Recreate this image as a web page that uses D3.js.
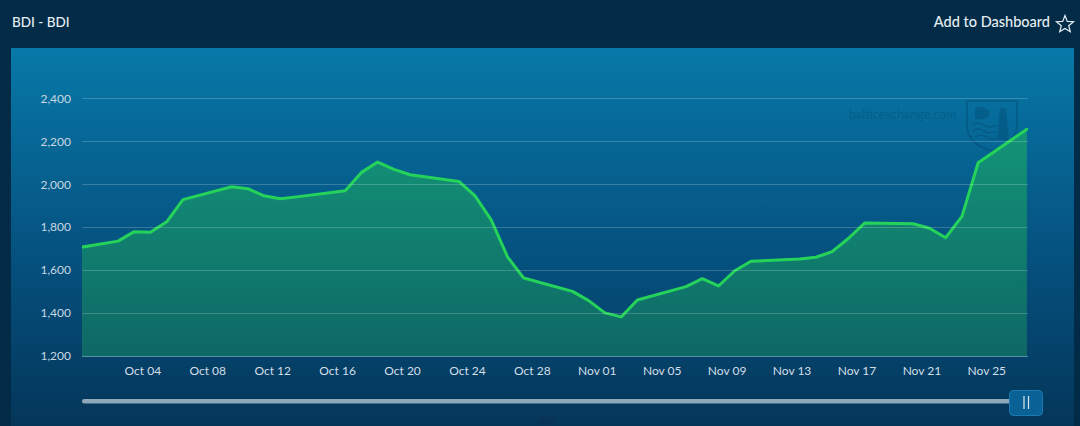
<!DOCTYPE html>
<html>
<head>
<meta charset="utf-8">
<script src="https://cdn.jsdelivr.net/npm/d3@7"></script>
<style>
  html, body { margin: 0; padding: 0; background: #022b47; }
  svg { display: block; }
  text { font-family: Lato, "Open Sans", sans-serif; }
</style>
</head>
<body>
<svg id="chart" width="1080" height="426"></svg>
<script>
// ---- Data (BDI, daily, trading days) ----
const dates = [
  "2023-09-29",
  "2023-10-02","2023-10-03","2023-10-04","2023-10-05","2023-10-06",
  "2023-10-09","2023-10-10","2023-10-11","2023-10-12","2023-10-13",
  "2023-10-16","2023-10-17","2023-10-18","2023-10-19","2023-10-20",
  "2023-10-23","2023-10-24","2023-10-25","2023-10-26","2023-10-27",
  "2023-10-30","2023-10-31","2023-11-01","2023-11-02","2023-11-03",
  "2023-11-06","2023-11-07","2023-11-08","2023-11-09","2023-11-10",
  "2023-11-13","2023-11-14","2023-11-15","2023-11-16","2023-11-17",
  "2023-11-20","2023-11-21","2023-11-22","2023-11-23","2023-11-24",
  "2023-11-27"
];
const bdiValues = [
  1697,
  1735, 1779, 1776, 1825, 1928,
  1988, 1979, 1946, 1932, 1941,
  1969, 2055, 2103, 2069, 2044,
  2013, 1946, 1833, 1662, 1563,
  1501, 1458, 1401, 1382, 1461,
  1523, 1560, 1526, 1597, 1641,
  1652, 1660, 1686, 1747, 1819,
  1816, 1795, 1751, 1850, 2100,
  2256
];
const xTickDates = [
  "2023-10-04","2023-10-08","2023-10-12","2023-10-16","2023-10-20",
  "2023-10-24","2023-10-28","2023-11-01","2023-11-05","2023-11-09",
  "2023-11-13","2023-11-17","2023-11-21","2023-11-25"
];
const yTicks = [1200, 1400, 1600, 1800, 2000, 2200, 2400];
const viewStart = "2023-09-30T06:45:00Z";
const viewEnd = "2023-11-27T13:40:00Z";
const chartTitle = "BDI - BDI";
const dashboardLabel = "Add to Dashboard";
const seriesName = "BDI";
const watermarkText = "balticexchange.com";

// ---- Setup ----
const W = 1080, H = 426;
const plot = { left: 82, right: 1028, top: 60, bottom: 356 };
const svg = d3.select("#chart");
const defs = svg.append("defs");

const parseDay = d3.utcParse("%Y-%m-%d");
const data = dates.map((d, i) => ({ date: d3.utcHour.offset(parseDay(d), 12), value: bdiValues[i] }));

const x = d3.scaleUtc()
  .domain([new Date(viewStart), new Date(viewEnd)])
  .range([plot.left, plot.right]);
const y = d3.scaleLinear()
  .domain([1200, 2400])
  .range([plot.bottom, 98.3]);

// gradients
const bg = defs.append("linearGradient").attr("id", "panelGrad")
  .attr("x1", 0).attr("y1", 0).attr("x2", 0).attr("y2", 1);
bg.append("stop").attr("offset", "0%").attr("stop-color", "#0779a8");
bg.append("stop").attr("offset", "55%").attr("stop-color", "#05517f");
bg.append("stop").attr("offset", "100%").attr("stop-color", "#043659");

const ag = defs.append("linearGradient").attr("id", "areaGrad")
  .attr("gradientUnits", "userSpaceOnUse")
  .attr("x1", 0).attr("y1", 98).attr("x2", 0).attr("y2", plot.bottom);
ag.append("stop").attr("offset", "0%").attr("stop-color", "#149a7a");
ag.append("stop").attr("offset", "100%").attr("stop-color", "#0e6866");

defs.append("clipPath").attr("id", "plotClip")
  .append("rect")
  .attr("x", plot.left).attr("y", 48)
  .attr("width", plot.right - plot.left).attr("height", plot.bottom - 48);

// outer background
svg.append("rect").attr("width", W).attr("height", H).attr("fill", "#022b47");
// panel
svg.append("rect").attr("x", 11).attr("y", 48).attr("width", 1063).attr("height", H - 48)
  .attr("fill", "url(#panelGrad)");

// header
svg.append("text").attr("x", 12).attr("y", 27)
  .attr("fill", "#e6eef4").attr("font-size", 13.5).attr("font-weight", 500)
  .text(chartTitle);
svg.append("text").attr("x", 1050).attr("y", 27).attr("text-anchor", "end")
  .attr("fill", "#e6eef4").attr("font-size", 14.5).attr("font-weight", 500)
  .text(dashboardLabel);
// star icon
(function () {
  const cx = 1065, cy = 24.5, R = 9, r = 3.9;
  const pts = d3.range(10).map(i => {
    const a = -Math.PI / 2 + i * Math.PI / 5;
    const rad = i % 2 === 0 ? R : r;
    return [cx + rad * Math.cos(a), cy + rad * Math.sin(a)];
  });
  svg.append("path").attr("d", "M" + pts.join("L") + "Z")
    .attr("fill", "none").attr("stroke", "#e6eef4").attr("stroke-width", 1.2)
    .attr("stroke-linejoin", "miter");
})();

// watermark
const wm = svg.append("g").attr("opacity", 0.2);
wm.append("text").attr("x", 849).attr("y", 119).attr("font-size", 12.5)
  .attr("fill", "#002a4a").text(watermarkText);
wm.append("path")
  .attr("d", "M967,101 L1017,101 L1017,128 Q1014,145 992,151 Q970,145 967,128 Z")
  .attr("fill", "none").attr("stroke", "#002a4a").attr("stroke-width", 2);
wm.append("path")
  .attr("d", "M972,125 Q978,121 984,125 T996,125 M972,131 Q978,127 984,131 T996,131 M975,137 Q981,133 987,137 T999,137")
  .attr("fill", "none").attr("stroke", "#002a4a").attr("stroke-width", 1.6);
wm.append("path")
  .attr("d", "M1000,108 L1006,108 L1009,140 L997,140 Z M975,108 Q985,104 990,114 Q985,122 975,118 Z")
  .attr("fill", "#002a4a");

// area & line
const g = svg.append("g").attr("clip-path", "url(#plotClip)");
const area = d3.area()
  .x(d => x(d.date)).y0(y(1200)).y1(d => y(d.value));
const line = d3.line()
  .x(d => x(d.date)).y(d => y(d.value));

g.append("path").datum(data).attr("d", area).attr("fill", "url(#areaGrad)");

// gridlines
svg.append("g").selectAll("line").data(yTicks).join("line")
  .attr("x1", plot.left).attr("x2", plot.right)
  .attr("y1", d => Math.round(y(d)) + 0.5).attr("y2", d => Math.round(y(d)) + 0.5)
  .attr("stroke", d => d === 1200 ? "rgba(160,210,210,0.55)" : "rgba(255,255,255,0.2)")
  .attr("stroke-width", 1);

g.append("path").datum(data).attr("d", line)
  .attr("fill", "none").attr("stroke", "#25d35a").attr("stroke-width", 3)
  .attr("stroke-linejoin", "round").attr("stroke-linecap", "round");

// axes
const xAxis = d3.axisBottom(x)
  .tickValues(xTickDates.map(parseDay))
  .tickFormat(d3.utcFormat("%b %d"))
  .tickSize(0).tickPadding(10);
const gx = svg.append("g").attr("transform", `translate(0,${plot.bottom})`).call(xAxis);
gx.select(".domain").remove();
gx.selectAll("text").attr("fill", "#d3dee8").attr("font-size", 12)
  .attr("font-family", "Lato, 'Open Sans', sans-serif");

const yAxis = d3.axisLeft(y).tickValues(yTicks).tickFormat(d3.format(","))
  .tickSize(0).tickPadding(11);
const gy = svg.append("g").attr("transform", `translate(${plot.left},0)`).call(yAxis);
gy.select(".domain").remove();
gy.selectAll("text").attr("fill", "#c9d7e2").attr("font-size", 12)
  .attr("font-family", "Lato, 'Open Sans', sans-serif");

// navigator scrollbar
svg.append("rect").attr("x", plot.left).attr("y", 399).attr("width", 1012 - plot.left).attr("height", 4.5)
  .attr("rx", 2.2).attr("fill", "#8ea7ba");
svg.append("rect").attr("x", 1009.5).attr("y", 390.5).attr("width", 33).attr("height", 25)
  .attr("rx", 4).attr("fill", "#0a6196").attr("stroke", "#1b7ab3").attr("stroke-width", 1);
svg.append("line").attr("x1", 1024).attr("x2", 1024).attr("y1", 396).attr("y2", 409)
  .attr("stroke", "#dbe7f0").attr("stroke-width", 1.2);
svg.append("line").attr("x1", 1028.5).attr("x2", 1028.5).attr("y1", 396).attr("y2", 409)
  .attr("stroke", "#dbe7f0").attr("stroke-width", 1.2);

// legend label (kept inside the canvas)
svg.append("text").attr("x", 547).attr("y", 425).attr("text-anchor", "middle")
  .attr("font-size", 10).attr("fill", "#0d2f4c").text(seriesName);
</script>
</body>
</html>
